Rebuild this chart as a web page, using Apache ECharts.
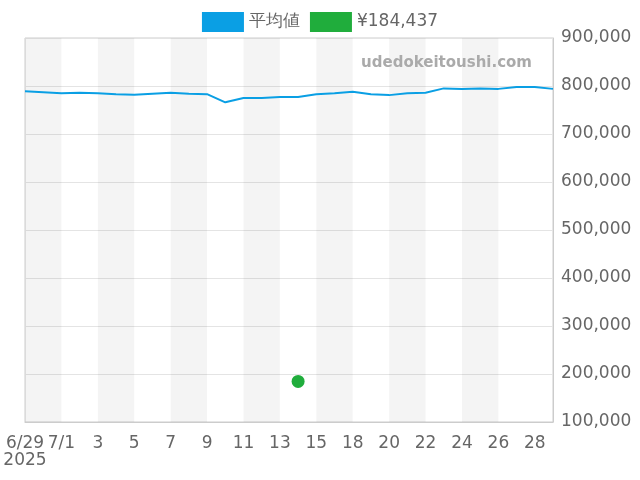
<!DOCTYPE html>
<html><head><meta charset="utf-8">
<script src="https://cdn.jsdelivr.net/npm/echarts@6/dist/echarts.min.js"></script>
<style>html,body{margin:0;padding:0}#c{width:640px;height:480px}</style>
</head><body><div id="c"></div>
<script>
const categories = ['6/29','6/30','7/1','7/2','7/3','7/4','7/5','7/6','7/7','7/8','7/9','7/10','7/11','7/12','7/13','7/14','7/15','7/17','7/18','7/19','7/20','7/21','7/22','7/23','7/24','7/25','7/26','7/27','7/28','7/29'];
const avgValues = [789000,787000,785000,786000,785000,783000,782000,784000,786000,784000,783000,766000,775000,775000,777000,777000,783000,785000,788000,783000,781000,785000,786000,795000,794000,795000,794000,798000,798000,794000];
const pointValues = [['7/14',184437]];
const chart = echarts.init(document.getElementById('c'));
chart.setOption({
  animation:false,
  legend:{top:7,left:'center',itemWidth:42,itemHeight:20,itemGap:10,textStyle:{fontSize:17,color:'#666',fontFamily:'DejaVu Sans'},
    data:[{name:'平均値',icon:'rect'},{name:'¥184,437',icon:'rect'}]},
  graphic:[{type:'text',z:100,right:108,top:56,style:{text:'udedokeitoushi.com',fill:'#aaa',font:'bold 15px DejaVu Sans'}}],
  grid:{left:25,right:87,top:38,bottom:58,show:true,borderColor:'#ccc',borderWidth:1},
  xAxis:{type:'category',data:categories,boundaryGap:false,
    axisLine:{lineStyle:{color:'#ccc'}},axisTick:{show:false},
    axisLabel:{interval:1,margin:13,color:'#666',fontSize:17,fontFamily:'DejaVu Sans',
      formatter:(v,i)=>{ if(i===0) return '6/29\n2025'; if(i===2) return '7/1'; return v.split('/')[1]; }},
    splitLine:{show:false},
    splitArea:{show:true,interval:1,areaStyle:{color:['rgba(0,0,0,0.045)','rgba(255,255,255,0)']}}},
  yAxis:{type:'value',position:'right',min:100000,max:900000,interval:100000,
    axisLine:{show:true,lineStyle:{color:'#ccc'}},axisTick:{show:false},
    axisLabel:{margin:8,color:'#666',fontSize:17,fontFamily:'DejaVu Sans',formatter:v=>v.toLocaleString('en-US')},
    splitLine:{lineStyle:{color:'#e4e4e4'}}},
  series:[
    {name:'平均値',type:'line',data:avgValues,showSymbol:false,symbol:'none',lineStyle:{color:'#0a9fe4',width:2},itemStyle:{color:'#0a9fe4'}},
    {name:'¥184,437',type:'scatter',data:pointValues,symbol:'circle',symbolSize:13,itemStyle:{color:'#20ad3c',opacity:1}}
  ]
});
</script></body></html>
